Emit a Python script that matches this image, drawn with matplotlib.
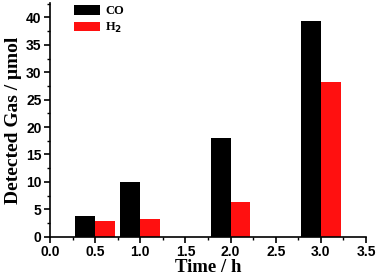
import matplotlib
matplotlib.use('Agg')
from matplotlib import pyplot as plt
from matplotlib.ticker import MultipleLocator

# Data
times = [0.5, 1.0, 2.0, 3.0]
co = [3.7, 9.9, 18.0, 39.4]
h2 = [2.8, 3.3, 6.3, 28.2]

width = 0.22

fig = plt.figure(figsize=(3.77, 2.8), dpi=100)
ax = fig.add_axes([0.1326, 0.1546, 0.8384, 0.834])

# Render bars
ax.bar([t - width / 2 for t in times], co, width, color='black', label='CO')
ax.bar([t + width / 2 for t in times], h2, width, color='#ff1010', label='H$_\\mathbf{2}$')

ax.set_xlim(0, 3.5)
ax.set_ylim(0, 42.6)
ax.xaxis.set_major_locator(MultipleLocator(0.5))
ax.xaxis.set_minor_locator(MultipleLocator(0.25))
ax.yaxis.set_major_locator(MultipleLocator(5))
ax.yaxis.set_minor_locator(MultipleLocator(2.5))

for side in ['top', 'right']:
	ax.spines[side].set_visible(False)
for side in ['left', 'bottom']:
	ax.spines[side].set_linewidth(1.2)

ax.tick_params(which='major', direction='out', length=4, width=1.2, labelsize=10, pad=2)
ax.tick_params(which='minor', direction='out', length=2.5, width=1.0)
for lab in ax.get_xticklabels() + ax.get_yticklabels():
	lab.set_fontfamily('Liberation Sans')
	lab.set_fontweight('bold')

ax.set_xlabel('Time / h', fontfamily='Liberation Serif', fontweight='bold', fontsize=13.5, labelpad=0)
ax.set_ylabel('Detected Gas / \u03bcmol', fontfamily='Liberation Serif', fontweight='bold', fontsize=14, labelpad=3)

ax.legend(loc='upper left', bbox_to_anchor=(74 / 377, 1 - 5 / 280), bbox_transform=fig.transFigure,
	frameon=False, borderpad=0, borderaxespad=0, handlelength=2.1, handleheight=0.8,
	handletextpad=0.4, labelspacing=0.3,
	prop={'family': 'Liberation Serif', 'weight': 'bold', 'size': 9})

plt.savefig('out.png', dpi=100)
